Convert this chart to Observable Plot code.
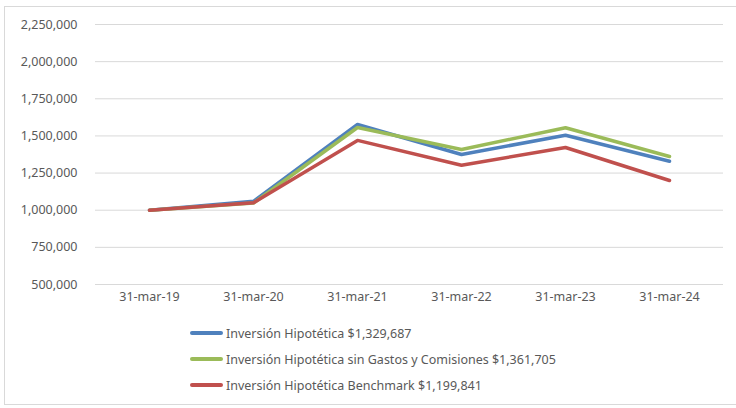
<!DOCTYPE html>
<html>
<head>
<meta charset="utf-8">
<script src="https://cdn.jsdelivr.net/npm/d3@7"></script>
<script src="https://cdn.jsdelivr.net/npm/@observablehq/plot@0.6"></script>
<style>
  body { margin: 0; background: #fff; font-family: "Noto Sans", sans-serif; }
  #wrap { position: relative; width: 736px; height: 408px; overflow: hidden; }
  #frame { position: absolute; left: 4px; top: 6px; width: 760px; height: 399px; border: 1px solid #d9d9d9; border-right: none; box-sizing: border-box; }
  #chart { position: absolute; left: 0; top: 0; }
  #legend { position: absolute; left: 190px; top: 320px; }
  .row { display: flex; align-items: center; height: 26px; font-size: 12.5px; color: #595959; }
  .sw { width: 33px; height: 3.5px; border-radius: 2px; margin-right: 3px; }
</style>
</head>
<body>
<div id="wrap">
  <div id="frame"></div>
  <div id="chart"></div>
  <div id="legend"></div>
</div>
<script>
const dates = ["31-mar-19", "31-mar-20", "31-mar-21", "31-mar-22", "31-mar-23", "31-mar-24"];
const seriesNames = [
  "Inversión Hipotética $1,329,687",
  "Inversión Hipotética sin Gastos y Comisiones $1,361,705",
  "Inversión Hipotética Benchmark $1,199,841"
];
const colors = ["#4f81bd", "#9bbb59", "#c0504d"];
const fund = [1000000, 1060000, 1577000, 1375000, 1505000, 1329687];
const fundNoFees = [1000000, 1048000, 1557000, 1409000, 1555000, 1361705];
const benchmark = [1000000, 1050000, 1470000, 1303000, 1422000, 1199841];
const yTicks = [500000, 750000, 1000000, 1250000, 1500000, 1750000, 2000000, 2250000];

const allSeries = [fund, fundNoFees, benchmark];
const data = [];
allSeries.forEach((vals, si) => vals.forEach((v, i) => data.push({date: dates[i], value: v, series: seriesNames[si]})));

const chart = Plot.plot({
  width: 736,
  height: 312,
  marginLeft: 95,
  marginRight: 13,
  marginTop: 24,
  marginBottom: 28,
  style: { fontFamily: "Noto Sans, sans-serif", fontSize: "12.5px", color: "#595959", background: "transparent" },
  x: { type: "point", domain: dates, padding: 0.5, label: null },
  y: { domain: [500000, 2250000], ticks: yTicks, label: null },
  color: { domain: seriesNames, range: colors },
  marks: [
    Plot.gridY(yTicks, { stroke: "#d9d9d9", strokeOpacity: 1, strokeWidth: 1 }),
    Plot.axisY(yTicks, { tickSize: 0, tickPadding: 18, tickFormat: d3.format(","), label: null, fill: "#595959" }),
    Plot.axisX({ tickSize: 0, tickPadding: 8, label: null, fill: "#595959" }),
    Plot.line(data, { x: "date", y: "value", z: "series", stroke: "series", strokeWidth: 3.5, strokeLinejoin: "round", strokeLinecap: "round" })
  ]
});
document.getElementById("chart").appendChild(chart);

const legend = document.getElementById("legend");
seriesNames.forEach((name, i) => {
  const row = document.createElement("div");
  row.className = "row";
  const sw = document.createElement("div");
  sw.className = "sw";
  sw.style.background = colors[i];
  const t = document.createElement("span");
  t.textContent = name;
  row.appendChild(sw);
  row.appendChild(t);
  legend.appendChild(row);
});
</script>
</body>
</html>
